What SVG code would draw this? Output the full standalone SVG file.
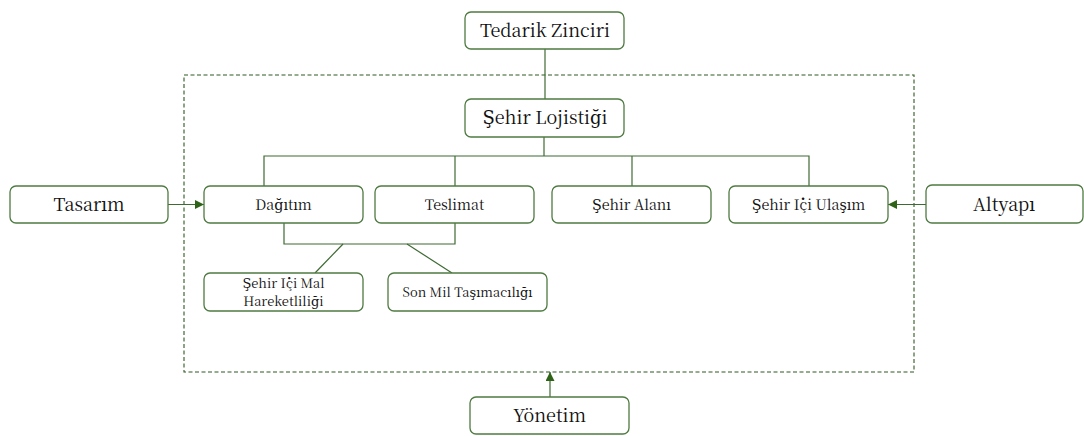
<svg xmlns="http://www.w3.org/2000/svg" width="1084" height="436" viewBox="0 0 1084 436">
<style>
.box{fill:#fff;stroke:#4f7a41;stroke-width:1.3}
.ln{fill:none;stroke:#3f6a34;stroke-width:1.2}
.dash{fill:none;stroke:#2f5a22;stroke-width:1.1;stroke-dasharray:4,2.5}
.t{font-family:'Noto Serif CJK SC','DejaVu Serif',serif;fill:#111;text-anchor:middle}
.lg{font-size:18px}
.md{font-size:14.3px}
.sm{font-size:13px}
</style>
<defs>
<marker id="ah" viewBox="0 0 10 10" refX="10" refY="5" markerWidth="9" markerHeight="9" markerUnits="userSpaceOnUse" orient="auto">
<path d="M0,0 L10,5 L0,10 Z" fill="#2e6318"/>
</marker>
</defs>
<rect class="dash" x="184" y="75" width="730" height="297"/>
<g id="connectors">
<line class="ln" x1="545" y1="49" x2="545" y2="99"/>
<line class="ln" x1="544" y1="137" x2="544" y2="156"/>
<polyline class="ln" points="264,186 264,156 809,156 809,186"/>
<line class="ln" x1="455" y1="156" x2="455" y2="186"/>
<line class="ln" x1="632" y1="156" x2="632" y2="186"/>
<polyline class="ln" points="284,223 284,244 455,244 455,223"/>
<line class="ln" x1="343" y1="244" x2="315" y2="273"/>
<line class="ln" x1="407" y1="244" x2="452" y2="273"/>
<line class="ln" x1="168" y1="204.5" x2="204" y2="204.5" marker-end="url(#ah)"/>
<line class="ln" x1="926" y1="204.5" x2="888" y2="204.5" marker-end="url(#ah)"/>
<line class="ln" x1="550" y1="397" x2="550" y2="372" marker-end="url(#ah)"/>
</g>
<g id="tedarik"><rect class="box" x="465" y="12" width="159" height="37" rx="6"/><text class="t lg" x="545" y="37">Tedarik Zinciri</text></g>
<g id="sehir-lojistigi"><rect class="box" x="465" y="99" width="159" height="38" rx="6"/><text class="t lg" x="545" y="124">Şehir Lojistiği</text></g>
<g id="tasarim"><rect class="box" x="10" y="186" width="158" height="37" rx="6"/><text class="t lg" x="89" y="210.5">Tasarım</text></g>
<g id="dagitim"><rect class="box" x="204" y="186" width="159" height="37" rx="6"/><text class="t md" x="283.5" y="209.5">Dağıtım</text></g>
<g id="teslimat"><rect class="box" x="375" y="186" width="159" height="37" rx="6"/><text class="t md" x="454.5" y="209.5">Teslimat</text></g>
<g id="sehir-alani"><rect class="box" x="552" y="186" width="159" height="37" rx="6"/><text class="t md" x="631.5" y="209.5">Şehir Alanı</text></g>
<g id="sehir-ici-ulasim"><rect class="box" x="729" y="186" width="159" height="37" rx="6"/><text class="t md" x="808.5" y="209.5">Şehir İçi Ulaşım</text></g>
<g id="altyapi"><rect class="box" x="926" y="185" width="157" height="38" rx="6"/><text class="t lg" x="1004" y="210.5">Altyapı</text></g>
<g id="mal-hareketliligi"><rect class="box" x="204" y="273" width="159" height="38" rx="6"/><text class="t sm" x="283.5" y="288">Şehir İçi Mal</text><text class="t sm" x="283.5" y="306">Hareketliliği</text></g>
<g id="son-mil"><rect class="box" x="388" y="273" width="159" height="38" rx="6"/><text class="t sm" x="467.5" y="296.5">Son Mil Taşımacılığı</text></g>
<g id="yonetim"><rect class="box" x="470" y="397" width="159" height="37" rx="6"/><text class="t lg" x="549.5" y="421.5">Yönetim</text></g>
</svg>
